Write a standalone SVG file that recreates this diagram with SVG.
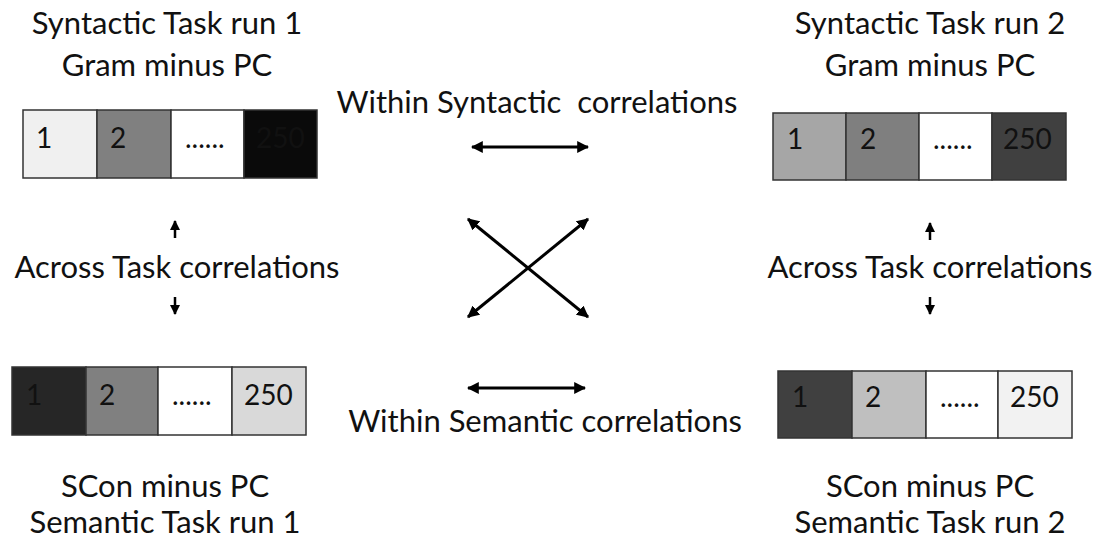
<svg xmlns="http://www.w3.org/2000/svg" width="1109" height="544" viewBox="0 0 1109 544">
<style>
.t{font-family:Lato,"Liberation Sans",sans-serif;font-size:31px;fill:#111;text-anchor:middle}
.n{font-family:Lato,"Liberation Sans",sans-serif;font-size:28px;fill:#111}
.c{stroke:#333;stroke-width:1.5}
.a{stroke:#000;stroke-width:3;fill:none}
.s{stroke:#000;stroke-width:2.5;fill:none}
</style>
<defs>
<marker id="ah" viewBox="0 0 10 10" refX="9" refY="5" markerWidth="4" markerHeight="4" orient="auto-start-reverse"><path d="M0,0L10,5L0,10z" fill="#000"/></marker>
<marker id="sh" viewBox="0 0 10 10" refX="9" refY="5" markerWidth="4" markerHeight="4" orient="auto"><path d="M0,0L10,5L0,10z" fill="#000"/></marker>
</defs>
<g id="title-tl"><text class="t" x="167" y="34">Syntactic Task run 1</text><text class="t" x="167" y="76">Gram minus PC</text></g>
<g id="title-tr"><text class="t" x="930" y="34">Syntactic Task run 2</text><text class="t" x="930" y="76">Gram minus PC</text></g>
<g id="label-within-syn"><text class="t" x="537" y="113" xml:space="preserve">Within Syntactic  correlations</text></g>
<g id="label-within-sem"><text class="t" x="545" y="432">Within Semantic correlations</text></g>
<g id="label-across-l"><text class="t" x="177" y="278">Across Task correlations</text></g>
<g id="label-across-r"><text class="t" x="930" y="278">Across Task correlations</text></g>
<g id="title-bl"><text class="t" x="165" y="497">SCon minus PC</text><text class="t" x="165" y="533">Semantic Task run 1</text></g>
<g id="title-br"><text class="t" x="930" y="497">SCon minus PC</text><text class="t" x="930" y="533">Semantic Task run 2</text></g>
<g id="box-tl">
<rect class="c" x="23" y="110" width="74" height="68" fill="#f0f0f0"/>
<rect class="c" x="97" y="110" width="74" height="68" fill="#808080"/>
<rect class="c" x="171" y="110" width="73" height="68" fill="#fff"/>
<rect class="c" x="244" y="110" width="73" height="68" fill="#0a0a0a"/>
<text class="n" x="36" y="148">1</text><text class="n" x="110" y="148">2</text><text class="n" x="185" y="148">......</text><text class="n" x="256" y="148">250</text>
</g>
<g id="box-tr">
<rect class="c" x="773" y="113" width="73" height="67" fill="#a6a6a6"/>
<rect class="c" x="846" y="113" width="73" height="67" fill="#7f7f7f"/>
<rect class="c" x="919" y="113" width="73" height="67" fill="#fff"/>
<rect class="c" x="992" y="113" width="74" height="67" fill="#404040"/>
<text class="n" x="787" y="149">1</text><text class="n" x="860" y="149">2</text><text class="n" x="933" y="149">......</text><text class="n" x="1003" y="149">250</text>
</g>
<g id="box-bl">
<rect class="c" x="12" y="367" width="74" height="68" fill="#262626"/>
<rect class="c" x="86" y="367" width="72" height="68" fill="#808080"/>
<rect class="c" x="158" y="367" width="74" height="68" fill="#fff"/>
<rect class="c" x="232" y="367" width="74" height="68" fill="#d9d9d9"/>
<text class="n" x="26" y="405">1</text><text class="n" x="99" y="405">2</text><text class="n" x="172" y="405">......</text><text class="n" x="244" y="405">250</text>
</g>
<g id="box-br">
<rect class="c" x="778" y="371" width="74" height="67" fill="#404040"/>
<rect class="c" x="852" y="371" width="74" height="67" fill="#bfbfbf"/>
<rect class="c" x="926" y="371" width="72" height="67" fill="#fff"/>
<rect class="c" x="998" y="371" width="74" height="67" fill="#f2f2f2"/>
<text class="n" x="792" y="407">1</text><text class="n" x="865" y="407">2</text><text class="n" x="940" y="407">......</text><text class="n" x="1010" y="407">250</text>
</g>
<g id="connectors">
<line class="a" x1="472" y1="147" x2="588" y2="147" marker-start="url(#ah)" marker-end="url(#ah)"/>
<line class="a" x1="468" y1="388" x2="585" y2="388" marker-start="url(#ah)" marker-end="url(#ah)"/>
<line class="a" x1="468" y1="219" x2="588" y2="317" marker-start="url(#ah)" marker-end="url(#ah)"/>
<line class="a" x1="588" y1="219" x2="468" y2="317" marker-start="url(#ah)" marker-end="url(#ah)"/>
<line class="s" x1="175" y1="238" x2="175" y2="221" marker-end="url(#sh)"/>
<line class="s" x1="175" y1="297" x2="175" y2="314" marker-end="url(#sh)"/>
<line class="s" x1="930" y1="240" x2="930" y2="223" marker-end="url(#sh)"/>
<line class="s" x1="930" y1="297" x2="930" y2="314" marker-end="url(#sh)"/>
</g>
</svg>
